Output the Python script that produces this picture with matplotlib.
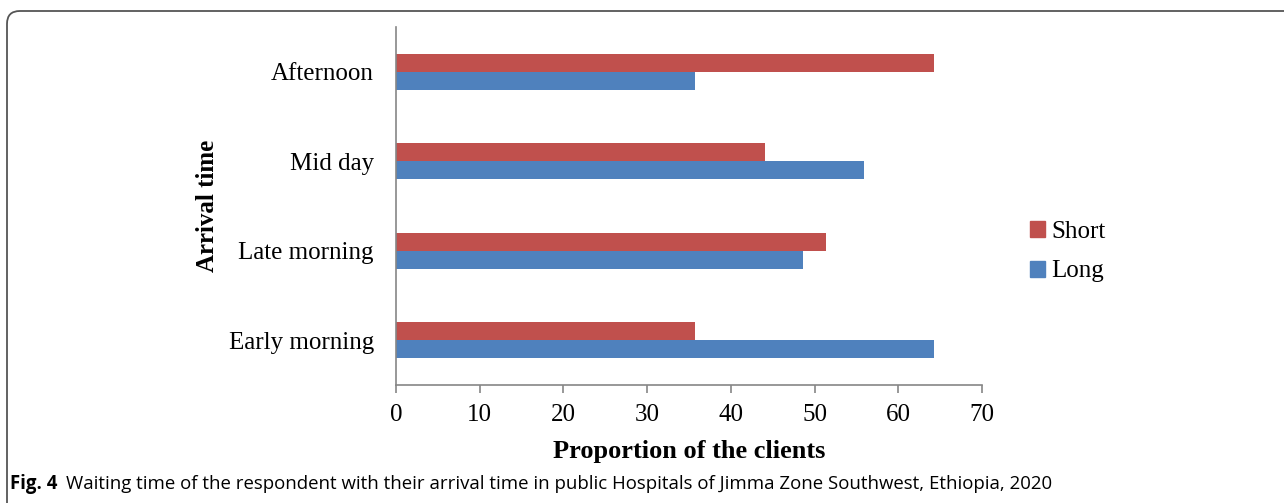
import numpy as np
import matplotlib.pyplot as plt
from matplotlib.patches import FancyBboxPatch, Patch

# data
categories = ['Early morning', 'Late morning', 'Mid day', 'Afternoon']
short_vals = [35.7, 51.4, 44.1, 64.3]
long_vals = [64.3, 48.6, 55.9, 35.7]
xticks = [0, 10, 20, 30, 40, 50, 60, 70]

red = '#C0504D'
blue = '#4F81BD'
grey = '#868686'

fig = plt.figure(figsize=(12.84, 5.03), dpi=100)
ax = fig.add_axes([0.3084, 0.2346, 0.7648 - 0.3084, 0.9463 - 0.2346])

y = np.arange(len(categories))
h = 0.2
ax.barh(y + h / 2, short_vals, height=h, color=red, label='Short')
ax.barh(y - h / 2, long_vals, height=h, color=blue, label='Long')

ax.set_xlim(0, 70)
ax.set_ylim(-0.5, len(categories) - 0.5)
ax.set_xticks(xticks)
ax.set_yticks(y)
ax.set_yticklabels(categories)

for s in ['top', 'right']:
    ax.spines[s].set_visible(False)
for s in ['left', 'bottom']:
    ax.spines[s].set_color(grey)
    ax.spines[s].set_linewidth(1.2)
ax.tick_params(axis='x', colors=grey, length=6, width=1.2, labelcolor='black',
               labelsize=18, pad=8)
ax.tick_params(axis='y', length=0, labelsize=18, pad=16)
for lab in ax.get_xticklabels() + ax.get_yticklabels():
    lab.set_fontfamily('Liberation Serif')

ax.set_xlabel('Proportion of the clients', fontfamily='Liberation Serif',
              fontweight='bold', fontsize=19, labelpad=10)
ax.set_ylabel('Arrival time', fontfamily='Liberation Serif',
              fontweight='bold', fontsize=18, labelpad=7)

handles = [Patch(color=red, label='Short'), Patch(color=blue, label='Long')]
fig.legend(handles=handles, loc='center left', bbox_to_anchor=(0.7845, 0.5),
           frameon=False, prop={'family': 'Liberation Serif', 'size': 18},
           handlelength=0.6, handleheight=0.6, handletextpad=0.25,
           labelspacing=0.72)

# rounded frame of the figure panel
frame = FancyBboxPatch((7 / 1284, -0.1), 1.1, 0.1 + (503 - 11) / 503,
                       boxstyle='round,pad=0,rounding_size=0.01',
                       transform=fig.transFigure, fill=False,
                       edgecolor='#555555', linewidth=1.3, clip_on=False,
                       mutation_aspect=1284 / 503)
fig.patches.append(frame)

fig.text(10 / 1284, 1 - 484 / 503, 'Fig. 4', fontfamily='Open Sans',
         fontweight='bold', fontsize=13.4, va='center', ha='left')
fig.text(66 / 1284, 1 - 484 / 503,
         'Waiting time of the respondent with their arrival time in public '
         'Hospitals of Jimma Zone Southwest, Ethiopia, 2020',
         fontfamily='Open Sans', fontsize=13.4, va='center', ha='left')

fig.savefig('out.png', dpi=100)
